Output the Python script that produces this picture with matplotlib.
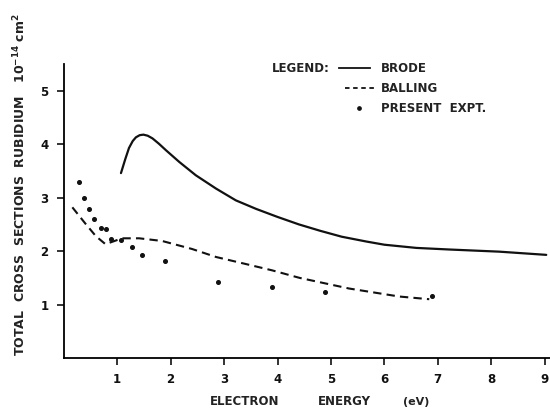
"""Total electron scattering cross sections for rubidium."""

import matplotlib

matplotlib.use("Agg")
import matplotlib.pyplot as plt

# Brode (solid curve)
brode_energy = [1.07, 1.15, 1.22, 1.29, 1.35, 1.42, 1.49, 1.57, 1.66, 1.78, 1.91, 2.16, 2.47, 2.85, 3.22,
                3.6, 4.0, 4.4, 4.8, 5.2, 5.66, 6.0, 6.6, 7.22, 8.15, 9.03]
brode_sigma = [3.46, 3.72, 3.93, 4.06, 4.13, 4.17, 4.18, 4.16, 4.11, 4.01, 3.89, 3.67, 3.42, 3.17, 2.95,
               2.79, 2.64, 2.5, 2.38, 2.27, 2.18, 2.12, 2.06, 2.03, 1.99, 1.93]

# Balling (dashed curve)
balling_energy = [0.16, 0.4, 0.6, 0.78, 0.95, 1.09, 1.41, 1.84, 2.4, 2.85, 3.4, 3.9, 4.41, 5.34, 6.28, 6.84]
balling_sigma = [2.82, 2.52, 2.28, 2.13, 2.19, 2.24, 2.24, 2.19, 2.04, 1.89, 1.76, 1.64, 1.5, 1.3, 1.15, 1.1]

# present experiment (dots)
expt_energy = [0.29, 0.37, 0.48, 0.56, 0.69, 0.79, 0.89, 1.07, 1.28, 1.47, 1.89, 2.89, 3.89, 4.88, 6.9]
expt_sigma = [3.29, 3.0, 2.79, 2.6, 2.44, 2.42, 2.23, 2.2, 2.07, 1.92, 1.81, 1.43, 1.33, 1.23, 1.16]

x_ticks = [1, 2, 3, 4, 5, 6, 7, 8, 9]
y_ticks = [1, 2, 3, 4, 5]

FONT = {"family": "DejaVu Sans", "weight": "bold", "color": "#222222"}


def main() -> None:
    fig = plt.figure(figsize=(5.5, 4.11), dpi=100)
    ax = fig.add_axes([0.116, 0.129, 0.884, 0.715])

    ax.plot(brode_energy, brode_sigma, color="#111111", lw=1.6, solid_capstyle="round")
    ax.plot(balling_energy, balling_sigma, color="#111111", lw=1.5, dashes=(4, 2.5))
    ax.plot(expt_energy, expt_sigma, ls="none", marker="o", ms=2.6, color="#111111")

    ax.set_xlim(0, 9.1)
    ax.set_ylim(0, 5.5)
    ax.set_xticks(x_ticks)
    ax.set_yticks(y_ticks)
    ax.set_xticklabels([str(t) for t in x_ticks], fontdict=FONT, fontsize=8.5)
    ax.set_yticklabels([str(t) for t in y_ticks], fontdict=FONT, fontsize=8.5)
    ax.tick_params(direction="out", length=5, width=1.2, pad=6, colors="#111111")
    for side in ["top", "right"]:
        ax.spines[side].set_visible(False)
    for side in ["left", "bottom"]:
        ax.spines[side].set_linewidth(1.3)

    # axis titles, drawn as figure text to mimic the lettering
    fig.text(0.445, 0.022, "ELECTRON", fontdict=FONT, fontsize=8.5, va="center", ha="center")
    fig.text(0.627, 0.022, "ENERGY", fontdict=FONT, fontsize=8.5, va="center", ha="center")
    fig.text(0.757, 0.022, "(eV)", fontdict=FONT, fontsize=8, va="center", ha="center")
    fig.text(0.036, 0.55, r"TOTAL  CROSS  SECTIONS  RUBIDIUM   $\mathbf{10^{-14}\ cm^{2}}$",
             fontdict=FONT, fontsize=9, rotation=90, ha="center", va="center")

    # hand lettered legend
    ax.text(3.9, 5.42, "LEGEND:", fontdict=FONT, fontsize=8.5, va="center")
    ax.plot([5.16, 5.74], [5.42, 5.42], color="#111111", lw=1.3)
    ax.text(5.94, 5.42, "BRODE", fontdict=FONT, fontsize=8.5, va="center")
    ax.plot([5.27, 5.81], [5.05, 5.05], color="#111111", lw=1.3, dashes=(2.5, 2))
    ax.text(5.94, 5.05, "BALLING", fontdict=FONT, fontsize=8.5, va="center")
    ax.plot([5.53], [4.67], marker="o", ms=2.4, color="#111111")
    ax.text(5.94, 4.67, "PRESENT  EXPT.", fontdict=FONT, fontsize=8.5, va="center")

    fig.savefig("out.png", dpi=100)


if __name__ == "__main__":
    main()
